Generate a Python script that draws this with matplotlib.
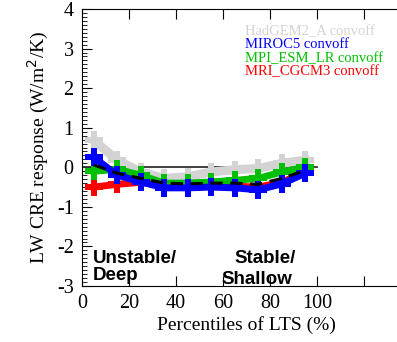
import matplotlib
matplotlib.use("Agg")
import matplotlib.pyplot as plt
from matplotlib.ticker import MultipleLocator, FixedLocator

plt.rcParams["axes.unicode_minus"] = False

percentiles = [5, 15, 25, 35, 45, 55, 65, 75, 85, 95]
hadgem = [0.68, 0.18, -0.12, -0.28, -0.24, -0.12, -0.06, -0.03, 0.1, 0.18]
miroc5 = [0.25, -0.2, -0.37, -0.52, -0.52, -0.5, -0.52, -0.57, -0.42, -0.15]
mpi = [-0.1, -0.05, -0.2, -0.4, -0.4, -0.37, -0.33, -0.28, -0.12, 0.0]
mri = [-0.5, -0.43, -0.38, -0.47, -0.48, -0.47, -0.48, -0.5, -0.38, -0.12]
mean = [0.06, -0.15, -0.28, -0.4, -0.42, -0.4, -0.4, -0.43, -0.28, -0.08]

names = ["HadGEM2_A convoff", "MIROC5 convoff", "MPI_ESM_LR convoff", "MRI_CGCM3 convoff"]
colors = ["#d3d3d3", "#0000ff", "#00c000", "#ff0000"]

xticks = [0, 20, 40, 60, 80, 100, 120]
xticklabels = ["0", "20", "40", "60", "80", "100", ""]
yticks = [-3, -2, -1, 0, 1, 2, 3, 4]

serif = ["Liberation Serif", "DejaVu Serif"]
sans = ["Liberation Sans", "DejaVu Sans"]

fig = plt.figure(figsize=(3.97, 3.42), dpi=100)
ax = fig.add_axes([82/397, 56/342, 329/397, 277/342])

ax.plot([0, 100], [0, 0], color="#333333", lw=1.3, zorder=2)

series = [(hadgem, colors[0], 6.5), (mri, colors[3], 5), (mpi, colors[2], 5), (miroc5, colors[1], 5)]
for vals, c, lw in series:
    ax.plot(percentiles, vals, color=c, lw=lw, marker="P", ms=13, mew=0, zorder=3)

ax.plot(percentiles, mean, color="black", lw=2.2, ls=(0, (4, 2.5)), zorder=4)

ax.set_xlim(0, 140)
ax.set_ylim(-3, 4)
ax.xaxis.set_major_locator(FixedLocator(xticks))
ax.set_xticklabels(xticklabels)
ax.set_yticks(yticks)
ax.yaxis.set_minor_locator(MultipleLocator(0.1))
ax.tick_params(which="major", direction="in", length=7, width=0.8, top=True, right=True,
               labelsize=14.5, pad=6)
ax.tick_params(which="minor", direction="in", length=3.5, width=0.6, right=True)
for lab in ax.get_xticklabels() + ax.get_yticklabels():
    lab.set_family(serif)
for sp in ax.spines.values():
    sp.set_linewidth(0.8)

ax.set_xlabel("Percentiles of LTS (%)", fontsize=14, family=serif, labelpad=2)
ax.set_ylabel("LW CRE response (W/m$^2$/K)", fontsize=14, family=serif, labelpad=4)

leg_y = [32, 45, 59, 72]
for name, c, yy in zip(names, colors, leg_y):
    fig.text(245/397, 1 - yy/342, name, color=c, fontsize=10.5, family=serif,
             ha="left", va="center")

ax.text(4.5, -2.1, "Unstable/\nDeep", fontsize=13.5, fontweight="bold",
        family=sans, ha="left", va="top", linespacing=1.0)
ax.text(65, -2.1, "Stable/", fontsize=13.5, fontweight="bold",
        family=sans, ha="left", va="top")
ax.text(59.5, -2.62, "Shallow", fontsize=13.5, fontweight="bold",
        family=sans, ha="left", va="top")

fig.savefig("out.png", dpi=100)
